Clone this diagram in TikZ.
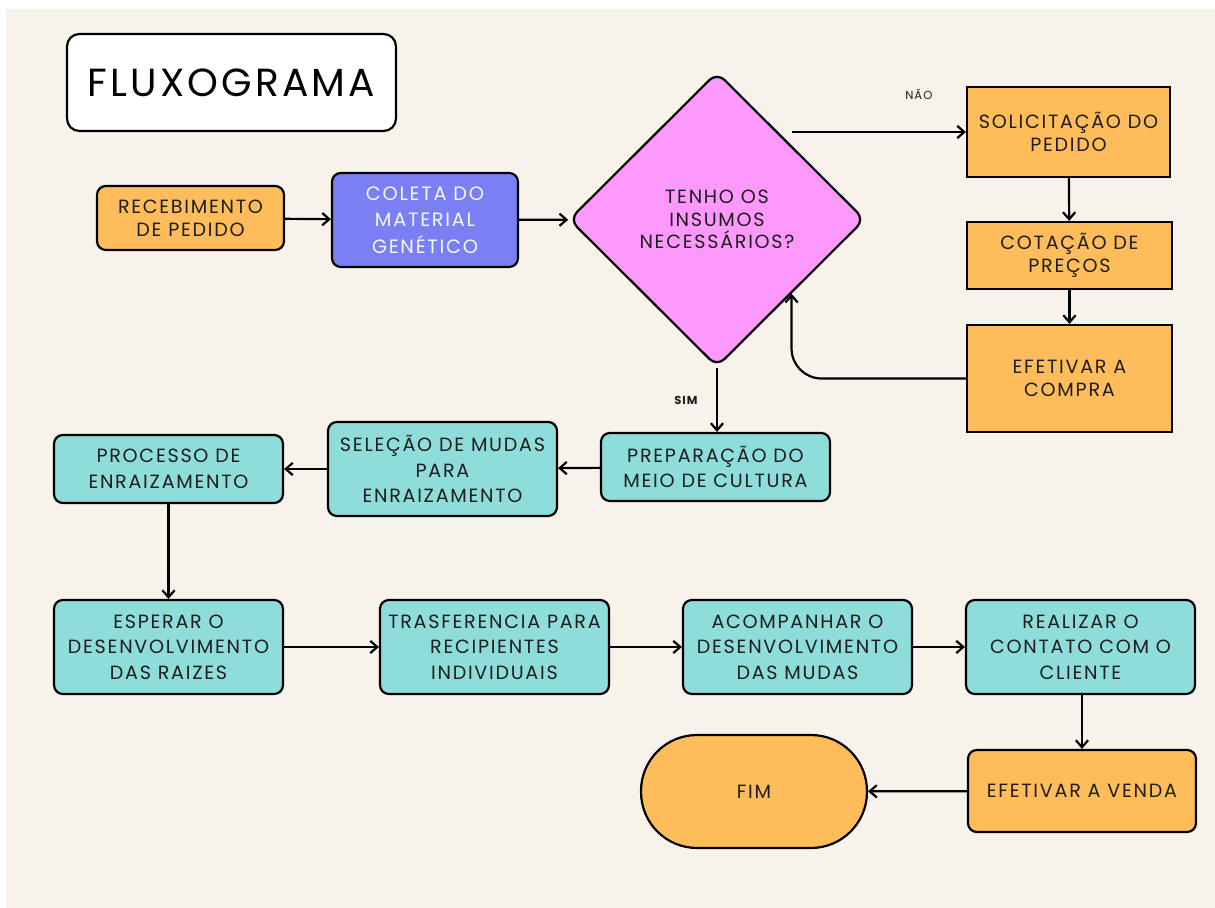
\documentclass[tikz,border=0pt]{standalone}
\usepackage{fontspec}
\setmainfont{Poppins}[LetterSpace=9]
\newfontfamily\titlefont{Poppins}[LetterSpace=8]
\usetikzlibrary{shapes.geometric,arrows.meta,positioning}

\definecolor{creme}{HTML}{F7F2EA}
\definecolor{laranja}{HTML}{FEBC5A}
\definecolor{turquesa}{HTML}{8EDDDB}
\definecolor{azul}{HTML}{7B7FF4}
\definecolor{rosa}{HTML}{FD98FD}
\definecolor{tinta}{HTML}{1E1E1E}

\begin{document}
\begin{tikzpicture}[
    x=0.02cm, y=-0.02cm,
    line width=1.25pt,
    >={Straight Barb[length=4pt,width=7pt]},
    base/.style={draw=black, align=center, inner sep=2pt, text=tinta,
        font=\fontsize{10.9}{13.2}\selectfont},
    orangebox/.style={base, fill=laranja, rounded corners=5pt},
    orangesq/.style={base, fill=laranja},
    tealbox/.style={base, fill=turquesa, rounded corners=5pt,
        font=\fontsize{10.9}{14.5}\selectfont},
    bluebox/.style={base, fill=azul, rounded corners=5pt, text=white!94!azul,
        font=\fontsize{11}{15}\selectfont},
    decision/.style={base, diamond, fill=rosa, rounded corners=6pt, inner sep=0pt,
        minimum width=5.92cm, minimum height=5.9cm, font=\fontsize{10.9}{12.8}\selectfont},
    terminal/.style={base, fill=laranja, rounded corners=1.12cm},
    titlebox/.style={draw=black, fill=white, rounded corners=7pt,
        minimum width=6.58cm, minimum height=1.94cm, font=\titlefont\fontsize{22.3}{24}\selectfont},
    answer/.style={font=\fontsize{6.6}{8}\selectfont, text=tinta}
]

    % fundo da pagina
    \useasboundingbox (0,0) rectangle (1215,908);
    \fill[white] (0,0) rectangle (1215,908);
    \fill[creme] (6,9) rectangle (1215,908);

    % titulo e primeira linha
    \node [titlebox] (titulo) at (231.5,82.5) {FLUXOGRAMA};
    \node [orangebox, minimum width=3.74cm, minimum height=1.28cm] (recebimento) at (190.5,218) {RECEBIMENTO\\DE PEDIDO};
    \node [bluebox, minimum width=3.72cm, minimum height=1.88cm] (coleta) at (425,220) {COLETA DO\\MATERIAL\\GENÉTICO};
    \node [decision] (insumos) at (717,219.5) {TENHO OS\\INSUMOS\\NECESSÁRIOS?};

    % compra dos insumos (coluna da direita)
    \node [orangesq, minimum width=4.06cm, minimum height=1.8cm] (solicitacao) at (1068.5,132) {SOLICITAÇÃO DO\\PEDIDO};
    \node [orangesq, minimum width=4.1cm, minimum height=1.34cm] (cotacao) at (1069.5,255.5) {COTAÇÃO DE\\PREÇOS};
    \node [orangesq, minimum width=4.1cm, minimum height=2.14cm] (compra) at (1069.5,378.5) {EFETIVAR A\\COMPRA};

    % preparo e enraizamento
    \node [tealbox, minimum width=4.58cm, minimum height=1.36cm] (preparacao) at (715.5,467) {PREPARAÇÃO DO\\MEIO DE CULTURA};
    \node [tealbox, minimum width=4.58cm, minimum height=1.88cm] (selecao) at (442.5,469) {SELEÇÃO DE MUDAS\\PARA\\ENRAIZAMENTO};
    \node [tealbox, minimum width=4.58cm, minimum height=1.36cm] (processo) at (168.5,469) {PROCESSO DE\\ENRAIZAMENTO};

    % desenvolvimento e venda
    \node [tealbox, minimum width=4.58cm, minimum height=1.88cm] (esperar) at (168.5,647) {ESPERAR O\\DESENVOLVIMENTO\\DAS RAIZES};
    \node [tealbox, minimum width=4.58cm, minimum height=1.88cm] (trasferencia) at (494.5,647) {TRASFERENCIA PARA\\RECIPIENTES\\INDIVIDUAIS};
    \node [tealbox, minimum width=4.58cm, minimum height=1.88cm] (acompanhar) at (797.5,647) {ACOMPANHAR O\\DESENVOLVIMENTO\\DAS MUDAS};
    \node [tealbox, minimum width=4.58cm, minimum height=1.88cm] (contato) at (1080.5,647) {REALIZAR O\\CONTATO COM O\\CLIENTE};
    \node [orangebox, minimum width=4.56cm, minimum height=1.64cm] (venda) at (1082,791) {EFETIVAR A VENDA};
    \node [terminal, minimum width=4.52cm, minimum height=2.26cm] (fim) at (754,791.5) {FIM};

    % ligacoes
    \draw [->] (recebimento) -- (coleta);
    \draw [->] (coleta) -- (insumos);
    \draw [->] (insumos.north east |- solicitacao.west) -- node[answer, name=nao, pos=0.73, above=0.5cm] {NÃO} (solicitacao.west);
    \draw [->] (solicitacao) -- (cotacao);
    \draw [->] (cotacao) -- (compra);
    \draw [->, rounded corners=0.6cm] (compra.west) -| (insumos.south east);
    \draw [->] (insumos.south) -- node[answer, name=sim, left=0.25cm, font=\bfseries\fontsize{6.6}{8}\selectfont] {SIM} (insumos.south |- preparacao.north);
    \draw [->] (preparacao) -- (selecao);
    \draw [->] (selecao) -- (processo);
    \draw [->] (processo) -- (esperar);
    \draw [->] (esperar) -- (trasferencia);
    \draw [->] (trasferencia) -- (acompanhar);
    \draw [->] (acompanhar) -- (contato);
    \draw [->] (contato.south -| venda.north) -- (venda.north);
    \draw [->] (venda) -- (fim);

\end{tikzpicture}
\end{document}
